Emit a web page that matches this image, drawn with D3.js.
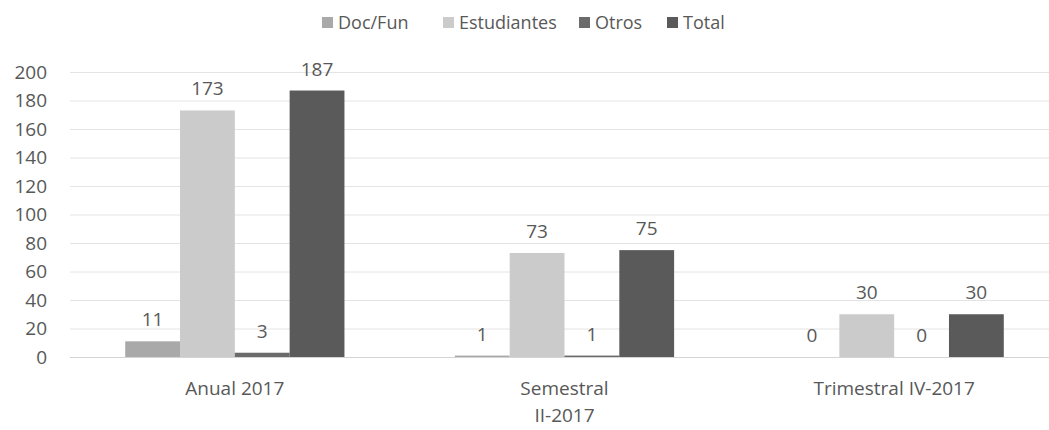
<!DOCTYPE html>
<html lang="es">
<head>
<meta charset="UTF-8" />
<title>Doc/Fun, Estudiantes, Otros, Total</title>
<script src="https://cdn.jsdelivr.net/npm/d3@7"></script>
<style>
  body { margin: 0; background: #fff; }
  text { font-family: "Open Sans", sans-serif; font-size: 19px; fill: #585858; }
  .legend text { font-size: 18px; }
  .grid line { stroke: #e4e4e4; stroke-width: 1px; }
  .grid .zero { stroke: #d4d4d4; }
</style>
</head>
<body>
<script>
var categories = [["Anual 2017"], ["Semestral", "II-2017"], ["Trimestral IV-2017"]];
var seriesNames = ["Doc/Fun", "Estudiantes", "Otros", "Total"];
var docFun      = [11, 1, 0];
var estudiantes = [173, 73, 30];
var otros       = [3, 1, 0];
var total       = [187, 75, 30];
var yTicks = [0, 20, 40, 60, 80, 100, 120, 140, 160, 180, 200];

var colors = ["#a9a9a9", "#cbcbcb", "#6b6b6b", "#5a5a5a"];
var series = [docFun, estudiantes, otros, total];

var w = 1049, h = 430;
var margin = { top: 72, right: -10, bottom: 73, left: 70 };

var svg = d3.select("body").append("svg")
  .attr("width", w)
  .attr("height", h);

var x0 = d3.scaleBand()
  .domain(d3.range(categories.length))
  .range([margin.left, w - margin.right])
  .paddingInner(0.335)
  .paddingOuter(0.1675);

var x1 = d3.scaleBand()
  .domain(d3.range(seriesNames.length))
  .range([0, x0.bandwidth()]);

var y = d3.scaleLinear()
  .domain([0, 200])
  .range([h - margin.bottom, margin.top]);

// gridlines
svg.append("g")
  .attr("class", "grid")
  .selectAll("line")
  .data(yTicks)
  .enter().append("line")
  .attr("class", function(d) { return d === 0 ? "zero" : null; })
  .attr("x1", margin.left)
  .attr("x2", w)
  .attr("y1", function(d) { return y(d) + 0.5; })
  .attr("y2", function(d) { return y(d) + 0.5; });

// y axis labels
var yAxis = d3.axisLeft(y).tickValues(yTicks).tickSize(0).tickPadding(23);
var ya = svg.append("g")
  .attr("transform", "translate(" + margin.left + ",0)")
  .call(yAxis);
ya.select(".domain").remove();
ya.selectAll("text").style("font-size", "19px").style("fill", "#585858").style("font-family", "Open Sans, sans-serif");

// bars
var groups = svg.selectAll("g.cat")
  .data(categories)
  .enter().append("g")
  .attr("class", "cat")
  .attr("transform", function(d, i) { return "translate(" + x0(i) + ",0)"; });

groups.each(function(c, ci) {
  var g = d3.select(this);
  var vals = series.map(function(s) { return s[ci]; });

  g.selectAll("rect")
    .data(vals)
    .enter().append("rect")
    .attr("x", function(d, i) { return x1(i); })
    .attr("width", x1.bandwidth())
    .attr("y", function(d) { return y(d); })
    .attr("height", function(d) { return y(0) - y(d); })
    .attr("fill", function(d, i) { return colors[i]; });

  g.selectAll("text.val")
    .data(vals)
    .enter().append("text")
    .attr("class", "val")
    .attr("x", function(d, i) { return x1(i) + x1.bandwidth() / 2; })
    .attr("y", function(d) { return y(d) - 15; })
    .attr("text-anchor", "middle")
    .text(function(d) { return d; });
});

// category labels
var catLabels = svg.selectAll("text.cat")
  .data(categories)
  .enter().append("text")
  .attr("class", "cat")
  .attr("text-anchor", "middle")
  .attr("x", function(d, i) { return x0(i) + x0.bandwidth() / 2; })
  .attr("y", 395);

catLabels.selectAll("tspan")
  .data(function(d) { return d; })
  .enter().append("tspan")
  .attr("x", function() { return d3.select(this.parentNode).attr("x"); })
  .attr("dy", function(d, i) { return i === 0 ? 0 : 27; })
  .text(function(d) { return d; });

// legend
var legendX = [322, 443, 579, 667];
var legend = svg.selectAll("g.legend")
  .data(seriesNames)
  .enter().append("g")
  .attr("class", "legend")
  .attr("transform", function(d, i) { return "translate(" + legendX[i] + ",17)"; });

legend.append("rect")
  .attr("width", 11)
  .attr("height", 11)
  .attr("fill", function(d, i) { return colors[i]; });

legend.append("text")
  .attr("x", 16)
  .attr("y", 12)
  .text(function(d) { return d; });
</script>
</body>
</html>
